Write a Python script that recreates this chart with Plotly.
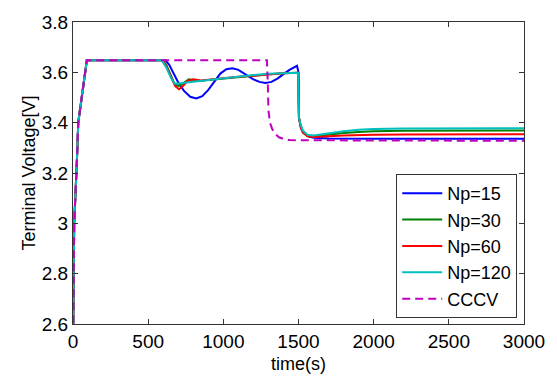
import plotly.graph_objects as go

# ---- data ----
t_np15 = [0, 8, 26, 35, 92, 615, 640, 670, 700, 740, 780, 820, 860, 900, 940, 980, 1020, 1060, 1100, 1150,
          1200, 1240, 1280, 1320, 1360, 1400, 1440, 1490, 1500, 1503, 1515, 1530, 1560, 1600, 1700, 2000, 3000]
v_np15 = [2.5, 3.0, 3.25, 3.4, 3.648, 3.648, 3.63, 3.595, 3.56, 3.525, 3.503, 3.496, 3.505, 3.53, 3.565, 3.595,
          3.612, 3.616, 3.61, 3.59, 3.572, 3.562, 3.558, 3.562, 3.575, 3.593, 3.61, 3.626, 3.6, 3.42, 3.385,
          3.362, 3.347, 3.340, 3.337, 3.336, 3.336]

t_np30 = [0, 8, 26, 35, 92, 595, 620, 650, 675, 700, 730, 770, 810, 850, 900, 1000, 1100, 1200, 1300, 1400,
          1498, 1503, 1515, 1530, 1560, 1600, 1700, 1800, 1900, 2000, 2200, 3000]
v_np30 = [2.5, 3.0, 3.25, 3.4, 3.648, 3.648, 3.63, 3.59, 3.555, 3.545, 3.555, 3.572, 3.57, 3.566, 3.57, 3.576,
          3.582, 3.587, 3.592, 3.596, 3.598, 3.42, 3.385, 3.36, 3.347, 3.346, 3.353, 3.359, 3.363, 3.366, 3.368, 3.369]

t_np60 = [0, 8, 26, 35, 92, 595, 620, 650, 680, 705, 730, 760, 800, 850, 900, 1000, 1100, 1200, 1300, 1400,
          1498, 1503, 1515, 1530, 1560, 1600, 1700, 1800, 2000, 2200, 3000]
v_np60 = [2.5, 3.0, 3.25, 3.4, 3.648, 3.648, 3.625, 3.585, 3.545, 3.533, 3.545, 3.565, 3.572, 3.568, 3.57, 3.576,
          3.582, 3.587, 3.592, 3.596, 3.598, 3.42, 3.38, 3.36, 3.346, 3.343, 3.346, 3.349, 3.352, 3.353, 3.354]

t_np120 = [0, 8, 26, 35, 92, 590, 620, 650, 675, 700, 800, 900, 1000, 1100, 1200, 1300, 1400, 1498, 1503,
           1515, 1530, 1560, 1600, 1700, 1800, 1900, 2000, 2200, 3000]
v_np120 = [2.5, 3.0, 3.25, 3.4, 3.648, 3.648, 3.62, 3.58, 3.556, 3.556, 3.563, 3.57, 3.577, 3.583, 3.589, 3.594,
           3.597, 3.598, 3.42, 3.39, 3.368, 3.352, 3.349, 3.358, 3.366, 3.372, 3.375, 3.377, 3.378]

t_cccv = [0, 8, 26, 35, 92, 1290, 1296, 1300, 1310, 1325, 1345, 1370, 1400, 1440, 1500, 2000, 3000]
v_cccv = [2.5, 3.0, 3.25, 3.4, 3.648, 3.648, 3.55, 3.45, 3.40, 3.375, 3.355, 3.342, 3.335, 3.331, 3.33, 3.329, 3.328]

series_names = ["Np=15", "Np=30", "Np=60", "Np=120", "CCCV"]
x_ticks = [0, 500, 1000, 1500, 2000, 2500, 3000]
y_ticks = [2.6, 2.8, 3.0, 3.2, 3.4, 3.6, 3.8]
y_tick_labels = ["2.6", "2.8", "3", "3.2", "3.4", "3.6", "3.8"]

colors = ["#0000FF", "#008000", "#FF0000", "#00BFBF", "#BF00BF"]
FONT = "Liberation Sans, Arial, sans-serif"

fig = go.Figure()
data = [(t_np15, v_np15), (t_np30, v_np30), (t_np60, v_np60), (t_np120, v_np120), (t_cccv, v_cccv)]
for i, ((t, v), name) in enumerate(zip(data, series_names)):
    fig.add_trace(go.Scatter(
        x=t, y=v, mode="lines", name=name,
        line=dict(color=colors[i], width=2, dash="8px,5px" if name == "CCCV" else "solid"),
    ))

axis_common = dict(
    showgrid=False, zeroline=False, showline=True, linecolor="#333333", linewidth=1,
    mirror="ticks", ticks="inside", ticklen=5, tickcolor="#333333",
    tickfont=dict(family=FONT, size=19, color="black"),
)

fig.update_xaxes(range=[0, 3000], tickvals=x_ticks,
                 title=dict(text="time(s)", font=dict(family=FONT, size=18, color="black"), standoff=6),
                 **axis_common)
fig.update_yaxes(range=[2.6, 3.8], tickvals=y_ticks, ticktext=y_tick_labels,
                 title=dict(text="Terminal Voltage[V]", font=dict(family=FONT, size=18, color="black"), standoff=1),
                 **axis_common)

fig.update_layout(
    width=557, height=382,
    margin=dict(l=73, r=27, t=21, b=53),
    plot_bgcolor="white", paper_bgcolor="white",
    showlegend=True,
    legend=dict(
        x=0.985, y=0.02, xanchor="right", yanchor="bottom",
        bordercolor="#333333", borderwidth=1, bgcolor="white",
        font=dict(family=FONT, size=18, color="black"),
        tracegroupgap=0, itemwidth=40,
    ),
)

fig.write_html("out.html", config={"displayModeBar": False},
               post_script="document.body.style.margin='0';")
